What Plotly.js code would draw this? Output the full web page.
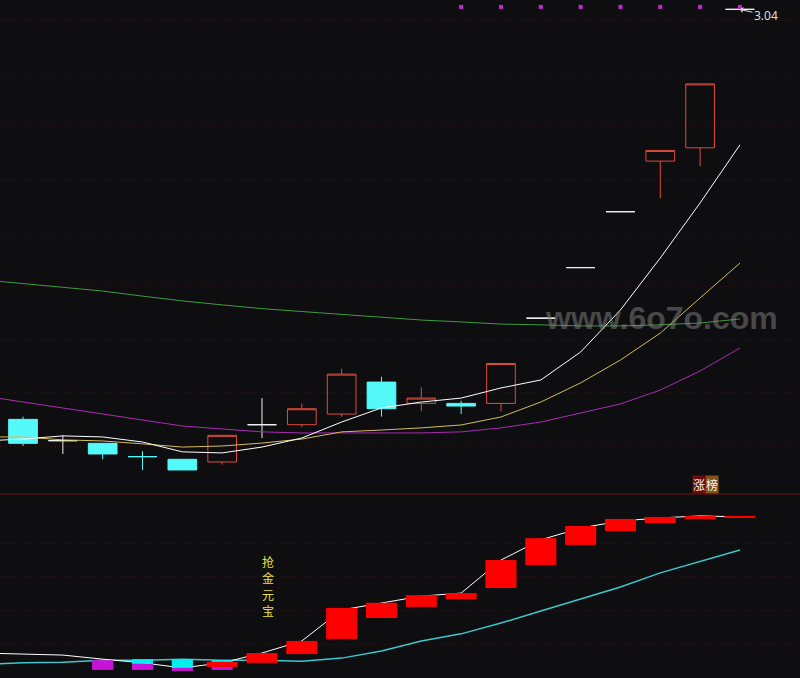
<!DOCTYPE html>
<html>
<head>
<meta charset="utf-8">
<script src="https://cdn.plot.ly/plotly-3.0.1.min.js"></script>
<style>
html, body { margin: 0; padding: 0; background: #0e0e11; }
#chart { width: 800px; height: 678px; }
</style>
</head>
<body>
<div id="chart"></div>
<script>
// K线
var idx   = [0,1,2,3,4,5,6,7,8,9,10,11,12,13,14,15,16,17,18];
var open  = [1.50,1.42,1.41,1.36,1.35,1.34,1.48,1.48,1.52,1.64,1.56,1.56,1.56,1.88,2.07,2.28,2.47,2.52,3.04];
var high  = [1.51,1.44,1.41,1.38,1.35,1.44,1.58,1.56,1.69,1.66,1.62,1.57,1.71,1.88,2.07,2.28,2.51,2.76,3.04];
var low   = [1.40,1.37,1.35,1.31,1.31,1.33,1.43,1.47,1.51,1.51,1.53,1.52,1.53,1.88,2.07,2.28,2.33,2.45,3.04];
var close = [1.41,1.42,1.37,1.36,1.31,1.44,1.48,1.54,1.67,1.54,1.58,1.55,1.71,1.88,2.07,2.28,2.51,2.76,3.04];
// up = 阳线, dn = 阴线, sz = 白十字, szc = 青十字, yz = 一字板
var kind  = ['dn','sz','dn','szc','dn','up','sz','up','up','dn','up','dn','up','yz','yz','yz','up','up','yz'];

// 均线 (从 -1 开始)
var maX  = [-1,0,1,2,3,4,5,6,7,8,9,10,11,12,13,14,15,16,17,18];
var ma5  = [1.419,1.426,1.438,1.434,1.415,1.378,1.374,1.396,1.430,1.490,1.543,1.565,1.580,1.618,1.648,1.753,1.911,2.106,2.313,2.531];
var ma10 = [1.434,1.434,1.423,1.419,1.408,1.396,1.400,1.411,1.426,1.453,1.460,1.468,1.479,1.509,1.565,1.637,1.723,1.824,1.956,2.087];
var ma20 = [1.588,1.565,1.543,1.520,1.498,1.475,1.464,1.453,1.449,1.449,1.449,1.449,1.453,1.468,1.490,1.524,1.558,1.610,1.682,1.768];
var ma60 = [2.024,2.010,1.997,1.982,1.963,1.945,1.930,1.916,1.905,1.894,1.885,1.873,1.866,1.858,1.855,1.851,1.851,1.855,1.862,1.877];

// 涨停信号
var signalIdx = [11,12,13,14,15,16,17,18];

// 副图 抢金元宝
var redTop = [null,null,null,null,null,0.48,0.74,1.10,2.08,2.23,2.46,2.52,3.50,4.15,4.51,4.72,4.78,4.81,4.81];
var redBot = [null,null,null,null,null,0.33,0.45,0.71,1.16,1.78,2.11,2.34,2.67,3.35,3.95,4.36,4.60,4.72,4.75];
var magTop = [null,null,0.53,0.42,0.50,0.33];
var magBot = [null,null,0.24,0.24,0.21,0.24];
var cyaTop = [null,null,null,0.56,0.56,0.53];
var cyaBot = [null,null,null,0.42,0.30,0.47];
var lineW  = [0.74,0.71,0.68,0.56,0.45,0.30,0.45,0.74,1.10,2.02,2.23,2.43,2.52,3.50,4.10,4.45,4.66,4.75,4.81,4.78];
var lineC  = [0.40,0.45,0.47,0.53,0.53,0.56,0.53,0.53,0.50,0.59,0.80,1.10,1.31,1.63,1.99,2.34,2.70,3.12,3.47,3.80];
var title  = ['抢','金','元','宝'];

var bg = '#0e0e11';
var xr = [-0.578, 19.508];
var topRange = [1.2197, 3.0751];
var subRange = [0, 5.46];
var split = 184 / 678;

function pick(arr, k) {
  return idx.filter(function(i){ return kind[i] === k; }).map(function(i){ return arr[i]; });
}

function candle(k, lineColor, fill) {
  return {
    type: 'candlestick', xaxis: 'x', yaxis: 'y',
    x: pick(idx, k), open: pick(open, k), high: pick(high, k), low: pick(low, k), close: pick(close, k),
    increasing: { line: { color: lineColor, width: 1 }, fillcolor: fill },
    decreasing: { line: { color: lineColor, width: 1 }, fillcolor: fill },
    whiskerwidth: 0, hoverinfo: 'skip'
  };
}

function maLine(y, color) {
  return { type: 'scatter', mode: 'lines', x: maX, y: y, xaxis: 'x', yaxis: 'y',
           line: { color: color, width: 1 }, hoverinfo: 'skip' };
}

function subBars(top, bot, color, w) {
  var xs = [], hs = [], bs = [];
  for (var i = 0; i < top.length; i++) {
    if (top[i] === null) continue;
    xs.push(idx[i]); hs.push(top[i] - bot[i]); bs.push(bot[i]);
  }
  return { type: 'bar', x: xs, y: hs, base: bs, width: w, xaxis: 'x3', yaxis: 'y3',
           marker: { color: color, line: { width: 0 } }, hoverinfo: 'skip' };
}

var data = [
  candle('up', '#e04a3e', 'rgba(0,0,0,0)'),
  candle('dn', '#54fafa', '#54fafa'),
  candle('sz', '#f0f0f0', '#f0f0f0'),
  candle('szc', '#54fafa', '#54fafa'),
  candle('yz', '#f0f0f0', '#f0f0f0'),
  maLine(ma60, '#3c9c3c'),
  maLine(ma20, '#a82cb0'),
  maLine(ma10, '#d2bc5a'),
  maLine(ma5, '#ffffff'),
  { type: 'scatter', mode: 'markers', x: signalIdx,
    y: signalIdx.map(function(){ return topRange[1] - 0.026; }),
    xaxis: 'x', yaxis: 'y', marker: { symbol: 'square', size: 4, color: '#d020d8' }, hoverinfo: 'skip' },
  { type: 'scatter', mode: 'lines', x: maX, y: lineC, xaxis: 'x2', yaxis: 'y2',
    line: { color: '#3cc8cc', width: 1.5 }, hoverinfo: 'skip' },
  { type: 'scatter', mode: 'lines', x: maX, y: lineW, xaxis: 'x2', yaxis: 'y2',
    line: { color: '#ffffff', width: 1 }, hoverinfo: 'skip' },
  subBars(magTop, magBot, '#c814d8', 0.53),
  subBars(cyaTop, cyaBot, '#00f0f0', 0.53),
  subBars(redTop, redBot, '#ff0000', 0.78)
];

var grid = { gridcolor: '#3e1414', griddash: '1px,4px', gridwidth: 1, zeroline: false,
             showticklabels: false, ticks: '', showline: false };

var notes = [
  { x: idx[idx.length - 1], y: close[close.length - 1], xref: 'x', yref: 'y',
    text: close[close.length - 1].toFixed(2), showarrow: true, ax: 26, ay: 6,
    arrowhead: 1, arrowsize: 1, arrowwidth: 1, arrowcolor: '#e0e0e0', standoff: 0,
    font: { family: 'Noto Sans', size: 12, color: '#dcdcdc' } },
  { x: 0.827, y: 1 - 318 / 678, xref: 'paper', yref: 'paper', showarrow: false,
    text: 'www.6o7o.com', xanchor: 'center', yanchor: 'middle',
    font: { family: 'Liberation Sans', size: 32, weight: 700, color: 'rgba(130,130,130,0.5)' } },
  { x: 699 / 800, y: 1 - 494 / 678, xref: 'paper', yref: 'paper', showarrow: false,
    text: '涨', bgcolor: '#6a0c0c', borderpad: 0, xanchor: 'center', yanchor: 'bottom',
    font: { family: 'Noto Sans CJK SC', size: 12, color: '#f4f4f4' } },
  { x: 711.5 / 800, y: 1 - 494 / 678, xref: 'paper', yref: 'paper', showarrow: false,
    text: '榜', bgcolor: '#86501a', borderpad: 0, xanchor: 'center', yanchor: 'bottom',
    font: { family: 'Noto Sans CJK SC', size: 12, color: '#f4f4f4' } }
];
title.forEach(function(ch, i) {
  notes.push({ x: 268 / 800, y: 1 - (561 + i * 16.5) / 678, xref: 'paper', yref: 'paper',
    showarrow: false, text: ch, xanchor: 'center', yanchor: 'middle',
    font: { family: 'Noto Sans CJK SC', size: 12, color: '#e6e23c' } });
});

var layout = {
  width: 800, height: 678,
  margin: { l: 0, r: 0, t: 0, b: 0 },
  paper_bgcolor: bg, plot_bgcolor: bg,
  showlegend: false,
  boxgap: 0.28, boxgroupgap: 0,
  barmode: 'overlay',
  hovermode: false,
  xaxis: { domain: [0, 1], range: xr, anchor: 'y', showgrid: false, zeroline: false,
           showticklabels: false, ticks: '', rangeslider: { visible: false } },
  yaxis: Object.assign({ domain: [split, 1], range: topRange, anchor: 'x',
           tickvals: [1.4, 1.6, 1.8, 2.0, 2.2, 2.4, 2.6, 2.8, 3.0] }, grid),
  xaxis2: { domain: [0, 1], range: xr, anchor: 'y2', showgrid: false, zeroline: false,
            showticklabels: false, ticks: '' },
  yaxis2: Object.assign({ domain: [0, split], range: subRange, anchor: 'x2',
            tickvals: [1, 2, 3, 4] }, grid),
  xaxis3: { overlaying: 'x2', range: xr, anchor: 'y3', visible: false },
  yaxis3: { overlaying: 'y2', range: subRange, anchor: 'x3', visible: false },
  shapes: [
    { type: 'line', xref: 'paper', yref: 'paper', x0: 0, x1: 1, y0: split, y1: split,
      line: { color: '#6e1414', width: 1 } }
  ],
  annotations: notes
};

Plotly.newPlot('chart', data, layout, { displayModeBar: false, staticPlot: true });
</script>
</body>
</html>
